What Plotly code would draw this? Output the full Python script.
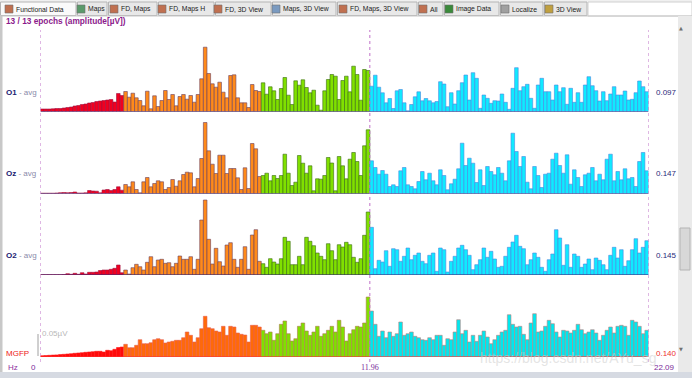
import plotly.graph_objects as go

W, H = 692, 378

# ---------------- data (bar heights) ----------------
band_names = ["delta", "theta", "alpha", "beta"]

O1_delta = [2.5, 2.5, 2.5, 2.7, 3, 3, 3.5, 4, 4.5, 5.5, 6, 7, 7.5, 8.5, 9, 10, 10.5, 11, 11.5, 12, 9.5, 18, 16]
O1_theta = [20, 14.3, 18.3, 13.7, 11, 5.7, 20.3, 2.7, 15.7, 5, 11, 21, 12, 17, 5.7, 15, 17, 12.3, 16, 9.3, 17, 32.7,
            64.3, 38, 27.7, 24.3, 29.3, 19.3, 13.7, 36, 36.7, 13.7, 8.7, 8.7, 4, 27, 21, 20]
O1_alpha = [28.7, 17.3, 24.7, 20.7, 12, 23, 34, 16.3, 7, 30.7, 26.3, 31.7, 24, 18.7, 21.3, 6.3, 1.3, 20.7, 32, 37,
            35.3, 12, 31, 35.3, 19.7, 45.3, 37, 11.3, 42, 41]
O1_beta = [25.3, 36.3, 24.3, 18.7, 8.7, 13, 3, 20.7, 22, 8.7, 0.7, 7, 14.7, 19.7, 10.7, 13, 10.7, 8.7, 10,
           29.8, 27.5, 4.8, 18.8, 7.5, 20.8, 28.8, 36.5, 11.5, 38.8, 33.2, 3.2, 16.5, 13.2, 8.2, 10.8, 10.5, 17.5,
           9.2, 2.2, 23.2, 43.8, 20.8, 24.8, 27.2, 13.2, 3.2, 26.5, 33.2, 19.8, 19.8, 11.5, 26.5, 19.8, 23.8, 7.2,
           23.2, 9.2, 18.8, 9.2, 26.5, 34.8, 25.8, 20.8, 10.5, 19.8, 10.8, 17.5, 24.8, 16.5, 16.5, 20.5, 11.5, 12.2,
           18.8, 30.5, 24.8, 19.8]

Oz_delta = [0.3, 0.3, 0.3, 0.3, 0.5, 0.8, 1, 0.8, 1, 1.5, 0.5, 0.5, 0.7, 3, 2.5, 2.3, 0.7, 3.5, 4, 3, 4, 6.7, 3.3]
Oz_theta = [9, 6.7, 11.7, 4, 0.7, 11.7, 16, 6.7, 10, 12.7, 11.7, 4, 6, 14, 7.3, 12.7, 19, 21.3, 20.7, 6.7, 15, 35,
            71, 42.7, 29.3, 20, 38.3, 38.3, 20, 25, 25, 15.7, 4, 25.7, 5, 50, 44.7, 17]
Oz_alpha = [18, 20.3, 12.7, 18, 15, 18, 39.3, 20.3, 8, 11.3, 38, 30.3, 20.3, 27.7, 2.7, 14.7, 14.3, 18, 36, 30.5,
            2.7, 37, 27.7, 14.7, 34.3, 41, 32, 18, 47.7, 63.7]
Oz_beta = [32.7, 26, 19.3, 23, 19.3, 7, 8.7, 7, 22.7, 26, 8.7, 7, 4.7, 12, 22, 13.7, 20.3, 12.7, 8.7, 23.7,
           18, 3.7, 9.7, 14.3, 24.7, 50.3, 28, 35.3, 30.3, 11, 23.7, 8, 27, 22, 18.7, 26, 20.3, 12.7, 32.7, 60.3,
           42, 27, 37, 11.3, 4.7, 27, 18, 6, 19.3, 20.3, 34.3, 40.3, 28, 20.3, 38.7, 9.3, 23.7, 16, 7, 18.7,
           20.3, 26, 12.7, 19.3, 13.7, 34.3, 39.3, 12.7, 22, 13.7, 24.7, 14.7, 16, 7, 32, 41, 22.7]

O2_delta = [0.3, 0.3, 0.3, 0.3, 0.3, 0.3, 0.5, 1.3, 0.7, 1.7, 0.7, 2.3, 1, 2.7, 2.7, 3, 4.5, 5, 5, 5.7, 6.7, 10, 2.3]
O2_theta = [5, 1, 7.3, 10.7, 8.3, 5, 12.7, 18.3, 8.3, 15, 15.7, 11.7, 12.3, 8.3, 11.7, 19, 15.7, 15.7, 18.3, 5.7,
            15.7, 55, 75, 35.7, 11, 26.7, 13.3, 9, 30, 32.3, 15.7, 7.7, 15.7, 28.3, 5.7, 40, 45.3, 13.7]
O2_alpha = [11.3, 7.7, 16.3, 13, 11, 16.3, 37.7, 33.7, 10.3, 10.3, 18.7, 10.3, 37.7, 33.7, 29.3, 22, 18.7, 15.3,
            31.3, 24.3, 15.3, 30.3, 28, 32.7, 30.3, 17.7, 12.7, 16.3, 39.7, 63]
O2_beta = [47.7, 6.3, 14.7, 13, 24.3, 8.7, 26.3, 25.3, 13.7, 18.7, 27, 15.3, 19.7, 22, 13.7, 11.3, 19.7, 22, 3.7, 27,
           25.3, 3, 13.7, 18.7, 27, 29.7, 25.3, 19.7, 5.3, 10.3, 15.3, 27, 17.7, 23.7, 16, 7.7, 8.7, 18.7, 27.7, 33,
           39.7, 28.7, 26.3, 10.3, 15.3, 22, 17.7, 7.7, 3.7, 15.3, 21, 45.3, 37, 9.7, 30.3, 7.7, 21, 18.7, 7.7, 11,
           16, 5.3, 17, 14.7, 10.3, 5.3, 19.7, 27.7, 17, 25.3, 8.7, 14.3, 25.3, 36.3, 22, 27.7, 34.3]

MGFP_delta = [1.3, 1.5, 1.7, 1.9, 2.1, 2.4, 2.7, 3, 3.3, 3.7, 4, 4.3, 4.7, 5, 5.3, 5.7, 5.7, 5, 6.7, 6.3, 7.7, 9.5, 10]
MGFP_theta = [12.7, 9.3, 9.3, 11.7, 17.3, 13.3, 13.3, 14.3, 17.3, 18.3, 17.3, 14, 15, 15.7, 16.7, 16.7, 19.3, 25,
              21.7, 15, 19.3, 28.3, 40.7, 29.3, 28.3, 26, 25, 30.7, 21.7, 30.7, 30, 24, 22.7, 22, 15, 31.7, 31.7, 30]
MGFP_alpha = [26.7, 23.3, 25, 16.7, 23.3, 32.7, 36, 23.3, 16, 18.3, 30.7, 34, 26, 21.7, 25, 30.7, 20.7, 23.3, 26.7,
              30.7, 25, 36.7, 30, 16, 23.3, 27.3, 30.7, 30, 34, 60]
MGFP_beta = [46, 32.7, 20.7, 26, 19.3, 25, 20.7, 23.3, 35, 21.7, 23.3, 25, 20.7, 19.3, 17.3, 16.7, 19.3, 17.3, 21.7,
             21.7, 11.7, 18.3, 17.3, 25, 37.3, 23.3, 26.7, 15, 21.7, 15.7, 21.7, 26, 20, 13.3, 17.3, 21.7, 25, 26.7,
             42.3, 32.7, 30, 30.7, 22.7, 17.3, 34, 43.3, 25, 26, 30.7, 36.7, 33.3, 25, 20, 26.7, 26, 24, 26.7, 32.7,
             27.3, 23.3, 25, 27.3, 24, 16.7, 21.7, 26.7, 30, 24, 30.7, 31.7, 30.7, 21.7, 36.7, 35, 30.7, 23.3, 26.7]

channel_names = ["O1", "Oz", "O2", "MGFP"]
channel_values = ["0.097", "0.147", "0.145", "0.140"]
freq_tick_labels = ["0", "11.96", "22.09"]
title_text = "13 / 13 epochs (amplitude[µV])"
scale_text = "0.05µV"
tab_labels = ["Functional Data", "Maps", "FD, Maps", "FD, Maps H", "FD, 3D View", "Maps, 3D View",
              "FD, Maps, 3D View", "All", "Image Data", "Localize", "3D View"]

panels = {
    "O1": [O1_delta, O1_theta, O1_alpha, O1_beta],
    "Oz": [Oz_delta, Oz_theta, Oz_alpha, Oz_beta],
    "O2": [O2_delta, O2_theta, O2_alpha, O2_beta],
    "MGFP": [MGFP_delta, MGFP_theta, MGFP_alpha, MGFP_beta],
}

# ---------------- styling ----------------
FONT = "Liberation Sans"
fill_O = ["#f00020", "#ff8a1a", "#80e000", "#10eaff"]
line_O = ["#a01040", "#6a4060", "#3a6a14", "#4a86e0"]
fill_M = ["#ff0a0a", "#ff6a08", "#80e000", "#00e8ee"]
line_M = ["#ff1a1a", "#e86050", "#b07850", "#c08080"]

def px(x):
    return x / W

def py(y):
    return 1 - y / H

# panel geometry in pixels: (top, baseline)
geom = {"O1": (29.5, 111.5), "Oz": (113.5, 193.5), "O2": (195, 275), "MGFP": (277, 357)}
label_y = {"O1": 92, "Oz": 173, "O2": 255, "MGFP": 353}
X_LEFT, X_RIGHT = 40.5, 648.5

fig = go.Figure()
n_total = None
for k, name in enumerate(channel_names):
    bands = panels[name]
    vals, cols, lcols = [], [], []
    fills = fill_M if name == "MGFP" else fill_O
    lines = line_M if name == "MGFP" else line_O
    for b, arr in enumerate(bands):
        vals += arr
        cols += [fills[b]] * len(arr)
        lcols += [lines[b]] * len(arr)
    n_total = len(vals)
    yax = "y" if k == 0 else f"y{k+1}"
    fig.add_trace(go.Bar(
        x=[i + 0.5 for i in range(len(vals))], y=vals, width=1,
        marker=dict(color=cols, line=dict(color=lcols, width=0.6)),
        xaxis="x", yaxis=yax, hoverinfo="skip", showlegend=False))

boundary = len(O1_delta) + len(O1_theta) + len(O1_alpha)

layout = dict(
    width=W, height=H, margin=dict(l=0, r=0, t=0, b=0),
    paper_bgcolor="white", plot_bgcolor="rgba(0,0,0,0)",
    barmode="overlay", bargap=0, showlegend=False,
    xaxis=dict(domain=[px(X_LEFT), px(X_RIGHT)], range=[0, n_total], visible=False, fixedrange=True),
)
for k, name in enumerate(channel_names):
    top, base = geom[name]
    key = "yaxis" if k == 0 else f"yaxis{k+1}"
    layout[key] = dict(domain=[py(base), py(top)], range=[0, base - top], visible=False,
                       anchor="x", fixedrange=True)
fig.update_layout(**layout)

shapes = []
annots = []

# baselines
for k, name in enumerate(channel_names):
    yref = "y" if k == 0 else f"y{k+1}"
    shapes.append(dict(type="line", xref="x", yref=yref, x0=0, x1=n_total, y0=0, y1=0,
                       line=dict(color="#ff3030" if name == "MGFP" else "#3a2a7a", width=1), layer="above"))

# dotted vertical markers at 0, boundary, end
for xv in [0, boundary, n_total]:
    shapes.append(dict(type="line", xref="x", yref="paper", x0=xv, x1=xv, y0=py(362), y1=py(30),
                       line=dict(color="#c070c8", width=1, dash="dot"), layer="above"))

# tab bar
shapes.append(dict(type="rect", xref="paper", yref="paper", x0=0, x1=1, y0=py(16), y1=1,
                   fillcolor="#f0f0f0", line=dict(width=0), layer="below"))
tab_edges = [0, 77, 108, 158, 215, 272, 337, 418, 444, 500, 544, 588]
tab_text_x = [15, 87, 120, 168, 224, 282, 349, 429, 455, 511, 555]
icon_cols = ["#c07050", "#5a9a6a", "#c07050", "#c07050", "#c07050", "#7a9ac0", "#c07050",
             "#c07050", "#3a8a3a", "#a0a0a0", "#c0a040"]
for t, lab in enumerate(tab_labels):
    x0, x1 = tab_edges[t], tab_edges[t + 1] - 1
    shapes.append(dict(type="rect", xref="paper", yref="paper", x0=px(x0 + 0.5), x1=px(x1), y0=py(15.5), y1=py(2),
                       fillcolor="#fafafa" if t == 0 else "#e8e8e8", line=dict(color="#b4b4b4", width=1),
                       layer="below"))
    ix = tab_text_x[t]
    shapes.append(dict(type="rect", xref="paper", yref="paper", x0=px(ix - 10), x1=px(ix - 2), y0=py(13), y1=py(5),
                       fillcolor=icon_cols[t], line=dict(color="#707070", width=0.6), layer="below"))
    annots.append(dict(x=px(ix - 1), y=py(9), xref="paper", yref="paper", text=lab, showarrow=False,
                       xanchor="left", yanchor="middle", font=dict(family=FONT, size=6.8, color="#202020")))
shapes.append(dict(type="rect", xref="paper", yref="paper", x0=px(588), x1=px(692), y0=py(16), y1=py(2),
                   fillcolor="white", line=dict(color="#d0d0d0", width=1), layer="below"))
shapes.append(dict(type="line", xref="paper", yref="paper", x0=0, x1=1, y0=py(16), y1=py(16),
                   line=dict(color="#c8c8c8", width=1), layer="below"))

# left border, bottom strip, right scrollbar
shapes.append(dict(type="rect", xref="paper", yref="paper", x0=0, x1=px(2.5), y0=0, y1=py(16),
                   fillcolor="#c8c8c8", line=dict(width=0), layer="below"))
shapes.append(dict(type="rect", xref="paper", yref="paper", x0=0, x1=1, y0=0, y1=py(372),
                   fillcolor="#d6dae2", line=dict(width=0), layer="below"))
shapes.append(dict(type="rect", xref="paper", yref="paper", x0=px(678), x1=1, y0=py(372), y1=py(16),
                   fillcolor="#eaeaea", line=dict(width=0), layer="below"))
shapes.append(dict(type="rect", xref="paper", yref="paper", x0=px(680), x1=px(690), y0=py(270), y1=py(228),
                   fillcolor="#d8d8d8", line=dict(color="#b4b4b4", width=1), layer="below"))
annots.append(dict(x=px(685), y=py(23), xref="paper", yref="paper", text="▲", showarrow=False,
                   font=dict(family="DejaVu Sans", size=5, color="#707070")))
annots.append(dict(x=px(685), y=py(354), xref="paper", yref="paper", text="▼", showarrow=False,
                   font=dict(family="DejaVu Sans", size=5, color="#707070")))

# title
annots.append(dict(x=px(4), y=py(21), xref="paper", yref="paper", text="<b>" + title_text + "</b>",
                   showarrow=False, xanchor="left", yanchor="middle",
                   font=dict(family=FONT, size=8.3, color="#8b1a8b")))

# channel labels and values
for k, name in enumerate(channel_names):
    yv = py(label_y[name])
    if name == "MGFP":
        txt = name
        col = "#ee2020"
        vcol = "#ee3030"
    else:
        txt = f"<b>{name}</b><span style='color:#8a8aaa'> - avg</span>"
        col = "#202070"
        vcol = "#2a2a7a"
    annots.append(dict(x=px(4), y=yv, xref="paper", yref="paper", text=txt, showarrow=False,
                       xanchor="left", yanchor="middle", font=dict(family=FONT, size=8, color=col)))
    annots.append(dict(x=px(654), y=yv, xref="paper", yref="paper", text=channel_values[k], showarrow=False,
                       xanchor="left", yanchor="middle", font=dict(family=FONT, size=8, color=vcol)))

# amplitude scale bar on MGFP
shapes.append(dict(type="line", xref="paper", yref="paper", x0=px(38), x1=px(38), y0=py(356), y1=py(334),
                   line=dict(color="#a0a0a0", width=1)))
annots.append(dict(x=px(40), y=py(333), xref="paper", yref="paper", text=scale_text, showarrow=False,
                   xanchor="left", yanchor="middle", font=dict(family=FONT, size=8, color="#b8b8b8")))

# frequency axis labels
annots.append(dict(x=px(6), y=py(367), xref="paper", yref="paper", text="Hz", showarrow=False,
                   xanchor="left", yanchor="middle", font=dict(family=FONT, size=8, color="#9030a0")))
for xv, lab, anc in zip([0, boundary, n_total], freq_tick_labels, ["right", "center", "left"]):
    annots.append(dict(x=xv, y=py(367.5), xref="x", yref="paper", text=lab, showarrow=False,
                       xanchor=anc, yanchor="middle", xshift=-3 if anc == "right" else (3 if anc == "left" else 0),
                       font=dict(family="Liberation Serif" if lab == "11.96" else FONT, size=8, color="#7a2a9a")))

# watermark
annots.append(dict(x=px(478), y=py(358), xref="paper", yref="paper", text="https://blog.csdn.net/AYu_sg",
                   showarrow=False, xanchor="left", yanchor="middle",
                   font=dict(family=FONT, size=14, color="rgba(205,205,205,0.55)")))

fig.update_layout(shapes=shapes, annotations=annots)
fig.write_html("out.html", config={"displayModeBar": False, "staticPlot": True},
               post_script="document.body.style.margin='0px';document.body.style.overflow='hidden';")
